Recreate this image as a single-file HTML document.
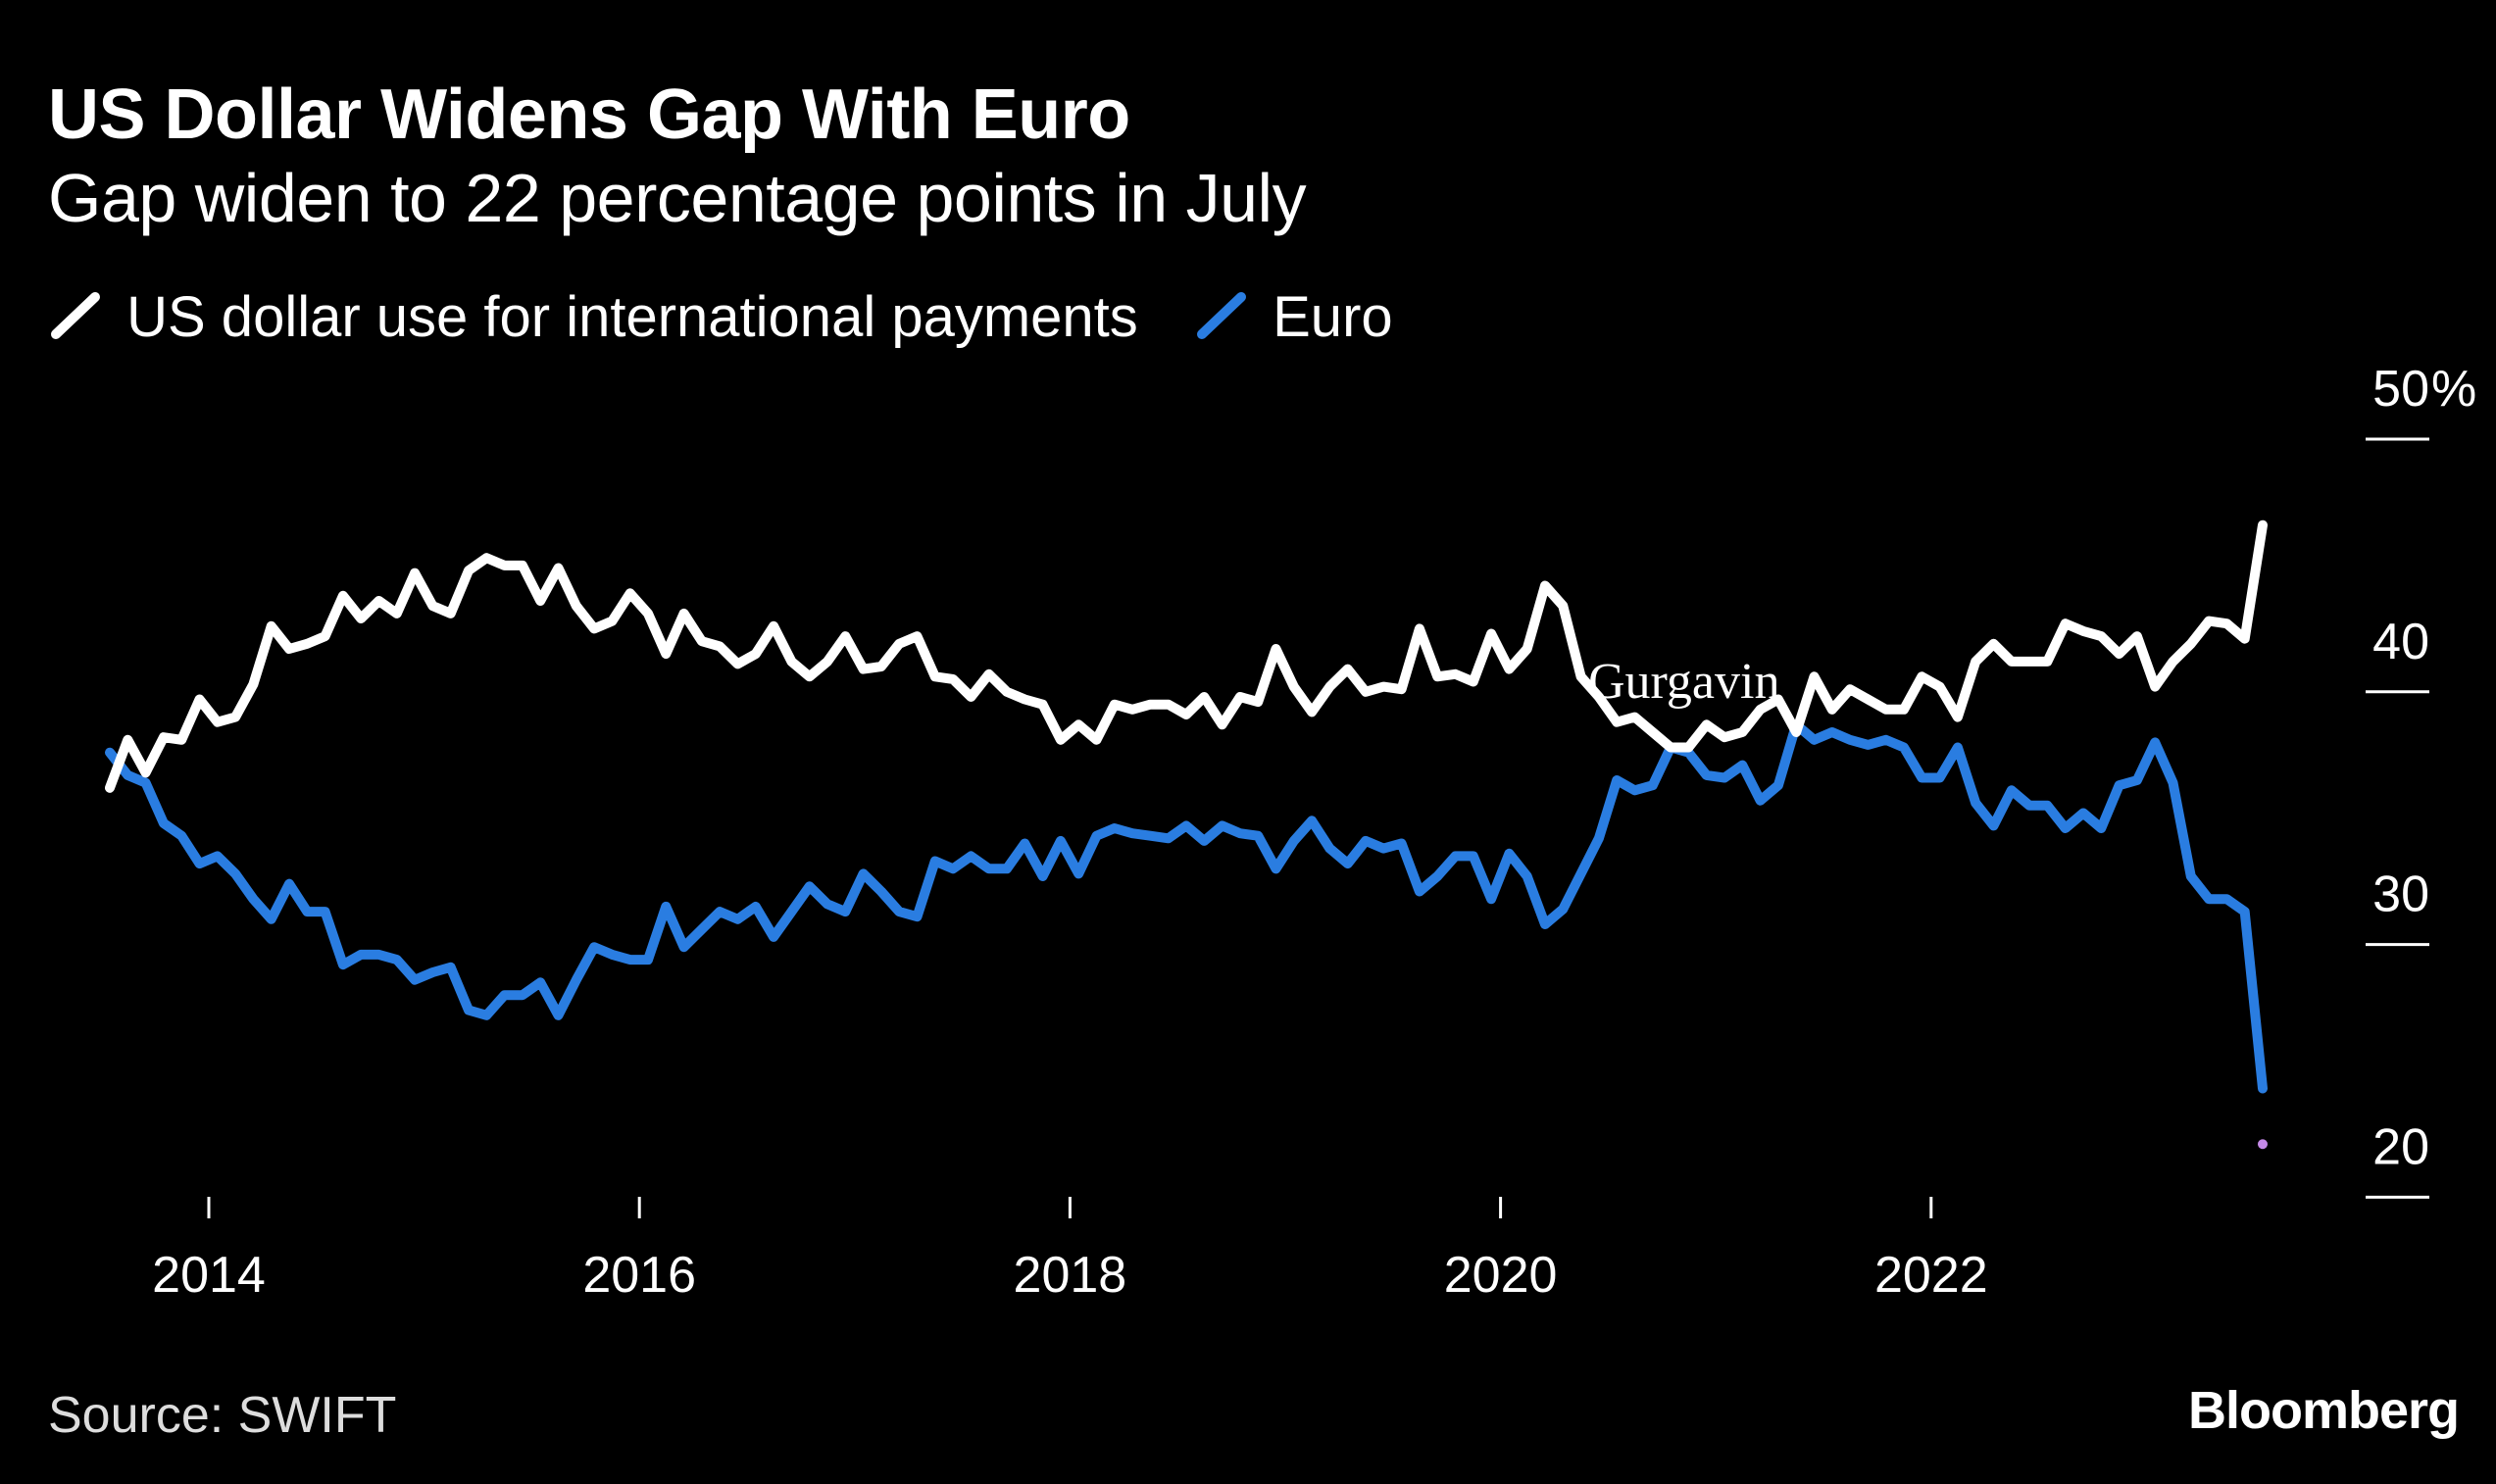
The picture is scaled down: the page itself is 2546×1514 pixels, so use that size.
<!DOCTYPE html>
<html><head><meta charset="utf-8">
<style>
html,body{margin:0;padding:0;background:#000;}
body{width:2546px;height:1514px;overflow:hidden;position:relative;font-family:"Liberation Sans",sans-serif;color:#fff;}
.t{position:absolute;white-space:nowrap;}
</style></head>
<body>
<div class="t" style="left:49px;top:76px;font-size:72px;font-weight:bold;letter-spacing:-0.5px;">US Dollar Widens Gap With Euro</div>
<div class="t" style="left:49px;top:162px;font-size:70px;letter-spacing:-0.5px;">Gap widen to 22 percentage points in July</div>
<div class="t" style="left:49px;top:290px;font-size:58px;">
  <svg width="56" height="60" style="vertical-align:-8px"><line x1="8" y1="50" x2="48" y2="12" stroke="#fff" stroke-width="10" stroke-linecap="round"/></svg>
  <span style="margin-left:8px">US dollar use for international payments</span></div>
<div class="t" style="left:1218px;top:290px;font-size:58px;">
  <svg width="56" height="60" style="vertical-align:-8px"><line x1="8" y1="50" x2="48" y2="12" stroke="#2a7de1" stroke-width="10" stroke-linecap="round"/></svg>
  <span style="margin-left:8px">Euro</span></div>
<svg id="chart" width="2546" height="1514" style="position:absolute;left:0;top:0"></svg>
<div class="t" style="left:49px;top:1414px;font-size:52px;color:#ddd;">Source: SWIFT</div>
<div class="t" style="right:38px;top:1408px;font-size:54px;font-weight:bold;letter-spacing:-1px;">Bloomberg</div>
<script>
const usd = [36.2,38.1,36.8,38.2,38.1,39.7,38.8,39.0,40.3,42.6,41.7,41.9,42.2,43.8,42.9,43.6,43.1,44.7,43.4,43.1,44.8,45.3,45.0,45.0,43.6,44.9,43.4,42.5,42.8,43.9,43.1,41.5,43.1,42.0,41.8,41.1,41.5,42.6,41.2,40.6,41.2,42.2,40.9,41.0,41.9,42.2,40.6,40.5,39.8,40.7,40.0,39.7,39.5,38.1,38.7,38.1,39.5,39.3,39.5,39.5,39.1,39.8,38.7,39.8,39.6,41.7,40.2,39.2,40.2,40.9,40.0,40.2,40.1,42.5,40.6,40.7,40.4,42.3,40.9,41.7,44.2,43.4,40.6,39.8,38.8,39.0,38.4,37.8,37.8,38.7,38.2,38.4,39.3,39.7,38.4,40.6,39.3,40.1,39.7,39.3,39.3,40.6,40.2,39.0,41.2,41.9,41.2,41.2,41.2,42.7,42.4,42.2,41.5,42.2,40.2,41.2,41.9,42.8,42.7,42.1,46.6];
const euro = [37.6,36.7,36.4,34.8,34.3,33.2,33.5,32.8,31.8,31.0,32.4,31.3,31.3,29.2,29.6,29.6,29.4,28.6,28.9,29.1,27.4,27.2,28.0,28.0,28.5,27.2,28.6,29.9,29.6,29.4,29.4,31.5,29.9,30.6,31.3,31.0,31.5,30.3,31.3,32.3,31.6,31.3,32.8,32.1,31.3,31.1,33.3,33.0,33.5,33.0,33.0,34.0,32.7,34.1,32.8,34.3,34.6,34.4,34.3,34.2,34.7,34.1,34.7,34.4,34.3,33.0,34.1,34.9,33.8,33.2,34.1,33.8,34.0,32.1,32.7,33.5,33.5,31.8,33.6,32.7,30.8,31.4,32.8,34.2,36.5,36.1,36.3,37.8,37.6,36.7,36.6,37.1,35.7,36.3,38.7,38.1,38.4,38.1,37.9,38.1,37.8,36.6,36.6,37.8,35.6,34.7,36.1,35.5,35.5,34.6,35.2,34.6,36.3,36.5,38.0,36.4,32.7,31.8,31.8,31.3,24.3];
const startYear = 2013.54;
const endYear = 2023.54;
const markerValue = 22.1;
const yTicks = [50,40,30,20];
const yTickLabels = ["50","40","30","20"];
const xTicks = [2014,2016,2018,2020,2022];
const xTickLabels = ["2014","2016","2018","2020","2022"];

const X = d => 213 + (d-2014)*219.6;
const Y = v => 448 + (50-v)*25.78;
const NS = "http://www.w3.org/2000/svg";
const svg = document.getElementById('chart');
function mk(tag, attrs){const e=document.createElementNS(NS,tag);for(const k in attrs)e.setAttribute(k,attrs[k]);svg.appendChild(e);return e;}

yTicks.forEach((v,i)=>{
  const l = mk('line',{x1:2413,x2:2478,y1:Y(v),y2:Y(v),stroke:'#fff','stroke-width':3});
  
  
  const t = mk('text',{x:2478,y:Y(v)-34,'text-anchor':'end',fill:'#fff','font-size':52,'font-family':'Liberation Sans, sans-serif'});
  t.textContent = yTickLabels[i];
  
  
  if(i===0){
    const p = mk('text',{x:2480,y:Y(v)-34,fill:'#fff','font-size':52,'font-family':'Liberation Sans, sans-serif'});
    p.textContent='%';
    
    
  }
});
xTicks.forEach((d,i)=>{
  const l = mk('line',{x1:X(d),x2:X(d),y1:1221,y2:1243,stroke:'#fff','stroke-width':3});
  
  
  const t = mk('text',{x:X(d),y:1318,'text-anchor':'middle',fill:'#fff','font-size':52,'font-family':'Liberation Sans, sans-serif'});
  t.textContent = xTickLabels[i];
  
  
});
function date(i,n){return startYear + i*(endYear-startYear)/(n-1);}
function pts(arr){return arr.map((v,i)=>X(date(i,arr.length)).toFixed(1)+','+Y(v).toFixed(1)).join(' ');}
const ue = mk('polyline',{points:pts(euro),fill:'none',stroke:'#2a7de1','stroke-width':10,'stroke-linejoin':'round','stroke-linecap':'round'});


const ud = mk('polyline',{points:pts(usd),fill:'none',stroke:'#fff','stroke-width':10,'stroke-linejoin':'round','stroke-linecap':'round'});


const dot = mk('circle',{cx:X(endYear),cy:Y(markerValue),r:5,fill:'#c58ae8'});


const g = mk('text',{x:1620,y:712,fill:'#fff','font-size':52,'font-family':'Liberation Serif, serif'});
g.textContent='Gurgavin';


</script>
</body></html>
